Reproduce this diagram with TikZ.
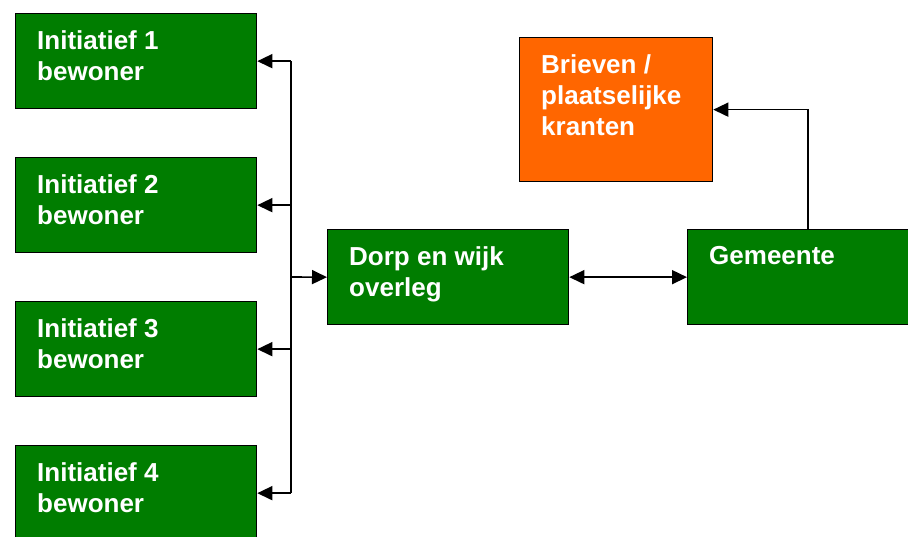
\documentclass[tikz,border=0pt]{standalone}
\usepackage{fontspec}
\setmainfont{Liberation Sans}
\usetikzlibrary{arrows.meta}
\definecolor{boxgreen}{RGB}{0,125,0}
\definecolor{boxorange}{RGB}{255,102,0}
\tikzset{
  box/.style={draw=black, line width=1.3pt, fill=boxgreen, minimum width=241pt, minimum height=95pt, inner sep=0pt, anchor=north west},
  obox/.style={box, fill=boxorange, minimum width=193pt, minimum height=144pt},
  lbl/.style={anchor=north west, inner sep=0pt, align=left, text=white, font=\bfseries\fontsize{26}{31}\selectfont},
  conn/.style={line width=1.6pt, draw=black},
  arr/.style={conn, -{Triangle[length=15pt,width=14pt]}},
  darr/.style={conn, {Triangle[length=15pt,width=14pt]}-{Triangle[length=15pt,width=14pt]}},
}
\begin{document}
\begin{tikzpicture}[x=1pt,y=-1pt]
\useasboundingbox (0,0) rectangle (908,536);
\clip (0,0) rectangle (908,536);
\node[box] (I1) at (15,13) {};
\node[box] (I2) at (15,157) {};
\node[box] (I3) at (15,301) {};
\node[box] (I4) at (15,445) {};
\node[box] (D) at (327,229) {};
\node[box] (G) at (687,229) {};
\node[obox] (B) at (519,37) {};
\node[lbl] (tI1) at ([xshift=22pt,yshift=-17pt]I1.north west) {Initiatief 1\\bewoner};
\node[lbl] (tI2) at ([xshift=22pt,yshift=-17pt]I2.north west) {Initiatief 2\\bewoner};
\node[lbl] (tI3) at ([xshift=22pt,yshift=-17pt]I3.north west) {Initiatief 3\\bewoner};
\node[lbl] (tI4) at ([xshift=22pt,yshift=-17pt]I4.north west) {Initiatief 4\\bewoner};
\node[lbl] (tD) at ([xshift=22pt,yshift=-17pt]D.north west) {Dorp en wijk\\overleg};
\node[lbl] (tG) at ([xshift=22pt,yshift=-17pt]G.north west) {Gemeente};
\node[lbl] (tB) at ([xshift=22pt,yshift=-17pt]B.north west) {Brieven /\\plaatselijke\\kranten};
\coordinate (tr) at (291,277);
\draw[conn] (tr |- I1.east) -- (tr |- I4.east);
\draw[arr] (tr |- I1.east) -- (I1.east);
\draw[arr] (tr |- I2.east) -- (I2.east);
\draw[arr] (tr |- I3.east) -- (I3.east);
\draw[arr] (tr |- I4.east) -- (I4.east);
\draw[arr] (tr) -- (D.west);
\draw[darr] (D.east) -- (G.west);
\draw[arr] (G.north) |- (B.east);
\end{tikzpicture}
\end{document}
